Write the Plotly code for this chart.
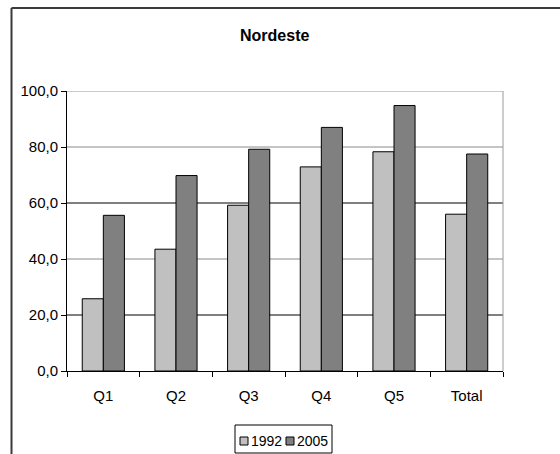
import plotly.graph_objects as go

# Share of households by income quintile, Nordeste region
categories = ["Q1", "Q2", "Q3", "Q4", "Q5", "Total"]
years = ["1992", "2005"]
values_1992 = [25.8, 43.5, 59.2, 72.9, 78.3, 56.0]
values_2005 = [55.6, 69.8, 79.2, 87.0, 94.8, 77.5]
y_ticks = [0, 20, 40, 60, 80, 100]

colors = {"1992": "#C0C0C0", "2005": "#808080"}
FONT = "Liberation Sans, Arial, sans-serif"

W, H = 560, 454
L, R, T, B = 67, 57, 91, 83
PW, PH = W - L - R, H - T - B


def px_x(px):
    return (px - L) / PW


def px_y(py):
    return (H - B - py) / PH


fig = go.Figure()
for year, vals in zip(years, [values_1992, values_2005]):
    fig.add_trace(go.Bar(
        x=categories, y=vals, name=year,
        marker=dict(color=colors[year], line=dict(color="#000000", width=1)),
        showlegend=False,
    ))

shapes = []
# horizontal gridlines
grid_colors = {20: "#000000", 40: "#8a8a8a", 60: "#000000", 80: "#8a8a8a", 100: "#9a9a9a"}
for v in y_ticks[1:]:
    shapes.append(dict(type="line", xref="paper", yref="y", x0=0, x1=1, y0=v, y1=v,
                       line=dict(color=grid_colors[v], width=1), layer="below"))
# right border of the plot area
shapes.append(dict(type="line", xref="paper", yref="paper", x0=1, x1=1, y0=0, y1=1,
                   line=dict(color="#9a9a9a", width=1), layer="below"))
# outer chart frame (left and top edges)
shapes.append(dict(type="line", xref="paper", yref="paper", x0=px_x(11.5), x1=px_x(560),
                   y0=px_y(8), y1=px_y(8), line=dict(color="#3a3a3a", width=2)))
shapes.append(dict(type="line", xref="paper", yref="paper", x0=px_x(11.5), x1=px_x(11.5),
                   y0=px_y(8), y1=px_y(454), line=dict(color="#3a3a3a", width=2)))

# legend box and swatches
shapes.append(dict(type="rect", xref="paper", yref="paper", x0=px_x(235), x1=px_x(332),
                   y0=px_y(425), y1=px_y(453), line=dict(color="#000000", width=1),
                   fillcolor="#ffffff"))
annotations = []
legend_items = [(240, 250, years[0]), (286, 296, years[1])]
for sx, tx, year in legend_items:
    shapes.append(dict(type="rect", xref="paper", yref="paper", x0=px_x(sx), x1=px_x(sx + 8),
                       y0=px_y(437), y1=px_y(445), line=dict(color="#000000", width=1),
                       fillcolor=colors[year]))
    annotations.append(dict(text=year, xref="paper", yref="paper", x=px_x(tx - 1), y=px_y(441),
                            xanchor="left", yanchor="middle", showarrow=False,
                            font=dict(family=FONT, size=14, color="#000000")))

annotations.append(dict(text="<b>Nordeste</b>", xref="paper", yref="paper",
                        x=px_x(274), y=px_y(35), xanchor="center", yanchor="middle",
                        showarrow=False, font=dict(family=FONT, size=16, color="#000000")))

fig.update_layout(
    width=W, height=H,
    margin=dict(l=L, r=R, t=T, b=B, pad=0),
    paper_bgcolor="#ffffff", plot_bgcolor="#ffffff",
    barmode="group", bargap=0.42, bargroupgap=0,
    separators=",.",
    font=dict(family=FONT, size=15, color="#000000"),
    shapes=shapes, annotations=annotations,
)
fig.update_yaxes(
    range=[0, 100], tickvals=y_ticks, tickformat=".1f",
    showgrid=False, zeroline=False,
    showline=True, linecolor="#000000", linewidth=1,
    ticks="outside", ticklen=5, tickcolor="#000000", tickwidth=1,
    tickfont=dict(family=FONT, size=15),
)
fig.update_xaxes(
    showgrid=False, showline=True, linecolor="#000000", linewidth=1,
    ticks="outside", tickson="boundaries", ticklen=5, tickcolor="#000000", tickwidth=1,
    ticklabelstandoff=11,
    tickfont=dict(family=FONT, size=15),
)

fig.write_html("out.html")
